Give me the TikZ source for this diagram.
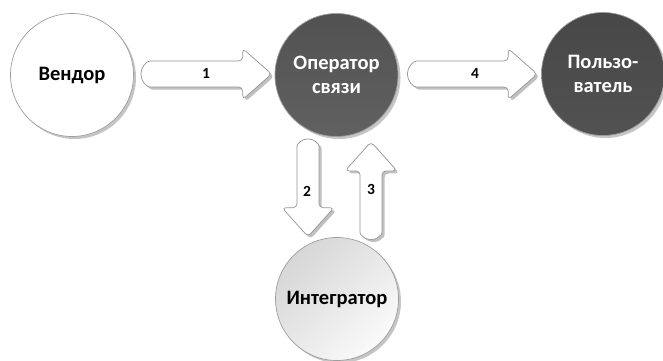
\documentclass[tikz,border=0pt]{standalone}
\usepackage{fontspec}
\setmainfont{Carlito}
\usetikzlibrary{shadows,calc}
\tikzset{
  x=1bp,y=-1bp,
  circ/.style={circle,minimum size=123bp,inner sep=0pt,draw=black!38,line width=0.7bp,
    align=center,font=\bfseries\fontsize{20.5bp}{24.5bp}\selectfont,
    drop shadow={shadow xshift=2.5bp,shadow yshift=-2.5bp,fill=black!45,opacity=0.5}},
  lightc/.style={circ,fill=white,text=black},
  darkc/.style={circ,top color=black!68,bottom color=black!62,text=white},
  darkerc/.style={circ,top color=black!72,bottom color=black!68,text=white},
  greyc/.style={circ,top color=black!16,bottom color=black!2,shading angle=45,text=black},
  fat/.style={draw=black!42,line width=0.7bp,fill=white,rounded corners=4bp,
    drop shadow={shadow xshift=2.5bp,shadow yshift=-2.5bp,fill=black!45,opacity=0.55}},
  num/.style={font=\bfseries\fontsize{15.5bp}{15.5bp}\selectfont,inner sep=0pt}
}
\newcommand\fatH[2]{%
  \draw[fat] let \p1=(#1), \p2=(#2) in
    (\x1+40bp,\y1+13bp) -- (\x2-29bp,\y1+13bp) -- (\x2-29bp,\y1+25.5bp) -- (\x2,\y1)
    -- (\x2-29bp,\y1-25.5bp) -- (\x2-29bp,\y1-13bp) -- (\x1+13bp,\y1-13bp)
    arc[start angle=-90,end angle=-270,radius=13bp] -- cycle;}
\newcommand\fatDown[2]{%
  \draw[fat] let \p1=(#1), \p2=(#2) in
    (\x1+11bp,\y1-40bp) -- (\x1+11bp,\y2+29bp) -- (\x1+26bp,\y2+29bp) -- (\x1,\y2)
    -- (\x1-26bp,\y2+29bp) -- (\x1-11bp,\y2+29bp) -- (\x1-11bp,\y1-11bp)
    arc[start angle=180,end angle=0,radius=11bp] -- cycle;}
\newcommand\fatUp[2]{%
  \draw[fat] let \p1=(#1), \p2=(#2) in
    (\x1-11bp,\y1+40bp) -- (\x1-11bp,\y2-29bp) -- (\x1-26bp,\y2-29bp) -- (\x1,\y2)
    -- (\x1+26bp,\y2-29bp) -- (\x1+11bp,\y2-29bp) -- (\x1+11bp,\y1+11bp)
    arc[start angle=0,end angle=-180,radius=11bp] -- cycle;}
\begin{document}
\begin{tikzpicture}
\useasboundingbox (0,0) rectangle (663,360);
\node[lightc] (vendor) at (72,75) {Вендор};
\node[darkc] (oper) at (336.5,75) {Оператор\\связи};
\node[darkerc] (user) at (603,74) {Пользо-\\ватель};
\node[greyc] (integ) at (337,299) {Интегратор};
% connector end points
\coordinate (a1s) at ($(vendor.east)+(7,-1)$);
\coordinate (a1e) at ($(oper.west)+(-3,-1)$);
\coordinate (a4s) at ($(oper.east)+(9,-1)$);
\coordinate (a4e) at ($(user.west)+(-4,0)$);
\coordinate (a2s) at ($(oper.south)+(-28.5,2)$);
\coordinate (a2e) at ($(integ.north)+(-28.5,-0.5)$);
\coordinate (a3s) at ($(integ.north)+(34,2.5)$);
\coordinate (a3e) at ($(oper.south)+(34,5)$);
\fatH{a1s}{a1e}
\fatH{a4s}{a4e}
\fatDown{a2s}{a2e}
\fatUp{a3s}{a3e}
\node[num] (n1) at (206,73) {1};
\node[num] (n4) at (475,73) {4};
\node[num] (n2) at (307,191) {2};
\node[num] (n3) at (371,189) {3};
\end{tikzpicture}
\end{document}
